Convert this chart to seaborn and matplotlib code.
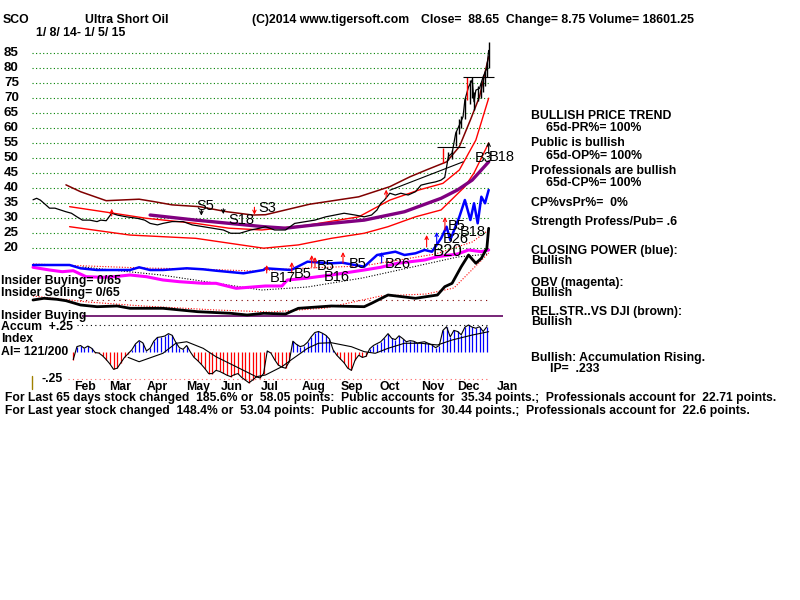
import numpy as np
import pandas as pd
import matplotlib
matplotlib.use("Agg")
import matplotlib.pyplot as plt
import matplotlib.transforms as mtransforms
import seaborn as sns

# ---------------- data ----------------
header_ticker = "SCO"
header_name = "Ultra Short Oil"
header_copy = "(C)2014 www.tigersoft.com"
header_quote = "Close=  88.65  Change= 8.75 Volume= 18601.25"
header_dates = "1/ 8/ 14- 1/ 5/ 15"

price_ticks = [85, 80, 75, 70, 65, 60, 55, 50, 45, 40, 35, 30, 25, 20]

month_names = ["Feb", "Mar", "Apr", "May", "Jun", "Jul", "Aug", "Sep", "Oct", "Nov", "Dec", "Jan"]
month_day = [28.4, 47.5, 67.8, 90.2, 108.7, 129.5, 153.6, 174.3, 195.1, 218.6, 237.7, 259.0]

close_day = [0, 2, 4, 7, 9, 12, 15, 18, 21, 24, 27, 31, 35, 37, 40, 43, 46, 51, 57, 61, 64, 68, 71, 76, 82,
             87, 93, 98, 104, 108, 113, 119, 124, 127, 132, 138, 143, 149, 154, 160, 165, 170, 176, 181, 185,
             188, 190, 192, 195, 198, 201, 205, 209, 212, 216, 220, 223, 225, 227, 229, 231, 233, 235, 236, 238,
             240, 241, 242, 244, 246, 248, 249]
close_val = [36.0, 36.5, 35.9, 34.3, 33.2, 33.2, 32.6, 32.0, 31.5, 30.3, 29.2, 29.2, 28.7, 29.2, 29.0, 31.5, 30.9,
             30.3, 29.8, 29.2, 28.1, 27.6, 28.1, 28.7, 28.7, 27.6, 27.0, 26.5, 25.9, 24.8, 24.8, 25.9, 26.5, 27.0,
             25.9, 25.9, 28.1, 28.7, 29.2, 30.3, 30.9, 31.5, 30.9, 30.3, 30.9, 32.6, 34.8, 35.9, 38.2, 37.6, 38.2,
             37.6, 38.7, 40.9, 41.5, 42.0, 42.6, 43.5, 50.5, 51.6, 58.3, 61.0, 63.8, 69.4, 73.8, 76.1, 68.8, 72.7,
             73.3, 77.2, 80.0, 86.0]

bar_day = [224, 227, 229, 231, 233, 234, 236, 237, 239, 240, 241, 243, 245, 246, 247, 248, 249]
bar_lo = [48.3, 49.3, 49.5, 54.0, 58.0, 60.0, 63.0, 69.4, 68.0, 70.0, 66.0, 69.0, 70.0, 72.0, 74.0, 77.0, 80.0]
bar_hi = [53.3, 52.0, 52.5, 59.0, 63.0, 64.0, 70.0, 77.0, 76.0, 77.0, 72.0, 74.0, 75.0, 77.0, 79.0, 82.0, 88.65]
red_bar_day = [224, 237]

upper_day = [18, 26, 40, 58, 66, 76, 91, 106, 120, 127, 151, 178, 195, 206, 215, 226, 233, 239, 244, 249]
upper_val = [41.0, 38.7, 35.7, 36.2, 35.4, 34.3, 33.7, 32.0, 30.9, 31.0, 34.5, 37.0, 40.4, 43.7, 46.0, 48.7,
             53.8, 62.7, 70.5, 83.9]
mid_day = [20, 44, 62, 89, 107, 125, 150, 178, 195, 211, 224, 233, 242, 249]
mid_val = [33.7, 31.5, 29.8, 28.1, 26.5, 25.9, 27.5, 30.3, 35.9, 39.3, 41.5, 46.0, 56.0, 70.0]
low_day = [20, 53, 89, 126, 145, 163, 181, 194, 209, 223, 236, 241, 249]
low_val = [27.0, 24.2, 23.1, 19.8, 20.9, 23.1, 24.8, 27.0, 30.3, 32.6, 40.4, 45.0, 55.0]
ma_day = [64, 89, 126, 138, 154, 181, 203, 223, 232, 240, 249]
ma_val = [30.9, 29.2, 27.0, 26.5, 27.6, 29.2, 32.0, 36.5, 39.3, 42.6, 48.7]
trend_day = [195, 235]
trend_val = [39.2, 48.7]
hline_lo_day = [221, 236]
hline_lo_val = 53.6
hline_hi_day = [235, 252]
hline_hi_val = 77.0

# indicator panel (arbitrary units)
cp_day = [0, 9, 20, 26, 35, 44, 53, 58, 64, 71, 84, 93, 100, 115, 126, 127, 141, 150, 163, 169, 181, 188, 198,
          203, 209, 214, 218, 223, 226, 228, 233, 236, 239, 241, 243, 245, 247, 249]
cp_val = [65, 65, 65, 61.7, 60, 60, 60, 62.7, 60, 60, 61.7, 60.7, 59.3, 56.7, 60, 61.7, 60, 68.3, 66.7, 67.3,
          63.3, 75, 78.3, 75, 76.7, 80, 78.3, 91.7, 103.3, 90, 113.3, 130, 110, 126.7, 106.7, 133.3, 126.7, 140]
obv_day = [0, 9, 16, 22, 29, 38, 44, 53, 62, 71, 80, 93, 100, 111, 122, 127, 136, 139, 149, 163, 181, 190, 199,
           214, 221, 232, 238, 245, 249]
obv_val = [62.7, 60, 58.3, 59.3, 53.3, 52.7, 53.3, 55, 53.3, 50, 48.3, 46.7, 46.7, 41.7, 43.3, 44, 44, 50, 51.7,
           55, 60, 62.7, 66.7, 70, 73.3, 76, 80, 78.3, 80]
obvma_day = [27, 70, 125, 150, 180, 200, 232, 249]
obvma_val = [63, 55, 40, 43, 52, 60, 73, 76]
cpma_day = [0, 30, 60, 90, 120, 150, 180, 200, 220, 240, 249]
cpma_val = [66, 64, 62, 61, 59, 62, 64, 70, 76, 88, 100]
rs_day = [0, 6, 13, 18, 26, 35, 46, 53, 71, 90, 108, 117, 126, 138, 145, 163, 181, 185, 194, 209, 221, 225, 229,
          234, 238, 242, 245, 248, 249]
rs_val = [30, 31.7, 30.7, 29.3, 25, 23.3, 24, 21.7, 21.7, 18.3, 16.7, 15, 16.7, 16, 21.7, 24, 23.3, 26.7, 35,
          31.7, 35, 43.3, 46.7, 63.3, 75, 66.7, 71.7, 81.7, 101.7]
rsma_day = [0, 30, 60, 100, 130, 160, 190, 215, 230, 249]
rsma_val = [34, 28, 24, 20, 18, 22, 34, 36, 42, 77]

# accumulation index (every 2nd trading day from day 22)
ai_val = [-0.07, 0.05, 0.06, 0.035, 0.055, 0.035, -0.005, -0.01, -0.035, -0.07, -0.11, -0.16, -0.15, -0.10,
          -0.05, -0.015, 0.02, 0.075, 0.105, 0.085, 0.01, 0.035, 0.10, 0.135, 0.14, 0.148, 0.17, 0.155, 0.09,
          0.04, 0.025, 0.06, 0.0, -0.05, -0.08, -0.115, -0.155, -0.2, -0.2, -0.17, -0.18, -0.197, -0.215, -0.228,
          -0.21, -0.2, -0.235, -0.26, -0.285, -0.26, -0.23, -0.24, -0.2, 0.01, -0.01, -0.07, -0.12, -0.14, -0.15,
          -0.09, 0.1, 0.07, 0.05, 0.06, 0.09, 0.14, 0.18, 0.19, 0.175, 0.155, 0.12, 0.02, -0.03, -0.065, -0.1,
          -0.15, -0.17, -0.075, -0.03, -0.05, -0.04, 0.03, 0.06, 0.078, 0.095, 0.13, 0.17, 0.127, 0.115, 0.15,
          0.125, 0.095, 0.105, 0.1, 0.083, 0.09, 0.095, 0.08, 0.065, 0.04, 0.06, 0.2, 0.234, 0.14, 0.2, 0.19,
          0.16, 0.23, 0.25, 0.23, 0.22, 0.234, 0.19, 0.234]
ai_day = list(range(22, 22 + 2 * len(ai_val), 2))
aima_day = [52, 58, 71, 78, 84, 93, 100, 111, 122, 127, 136, 141, 150, 156, 163, 174, 181, 187, 194, 203, 212,
            221, 229, 240, 249]
aima_val = [-0.05, -0.09, -0.012, 0.08, 0.095, 0.034, -0.044, -0.136, -0.229, -0.213, -0.136, -0.074, 0.034,
            0.081, 0.086, 0.049, 0.003, -0.012, 0.034, 0.081, 0.081, 0.065, 0.111, 0.157, 0.188]

price_sig_label = ["S5", "S18", "S3", "B3", "B18"]
price_sig_day = [94, 114, 128, 246.4, 256]
price_sig_val = [33.9, 29.2, 33.3, 50.0, 50.3]
ind_sig_label = ["B17", "B5", "B5", "B16", "B5", "B26", "B20", "B26", "B5", "B18"]
ind_sig_day = [136.6, 147.3, 159.8, 165.8, 177.3, 199.2, 226.5, 231.1, 231.4, 240.4]
ind_sig_val = [52.5, 56, 64, 53, 66, 66, 79, 91, 103.5, 97.5]

ind_red_arrow_day = [127.7, 141.4, 152.3, 154.1, 169.4, 215.1, 225.1]
ind_red_arrow_from = [57, 57, 63, 62, 67, 83, 100]
ind_red_arrow_to = [65, 68, 75, 73, 78, 95, 113]
ind_blue_arrow_day = [190.5, 220.6]
ind_blue_arrow_from = [67, 85]
ind_blue_arrow_to = [78, 98]
price_arrow_day = [43, 92, 104, 121, 193, 249]
price_arrow_from = [30.6, 32.8, 33.0, 33.5, 36.6, 51.5]
price_arrow_to = [33.0, 30.7, 31.2, 31.0, 39.4, 55.4]
price_arrow_is_red = [True, False, False, True, True, False]

right_text = [
    ("BULLISH PRICE TREND", 0, 116), ("65d-PR%= 100%", 1, 128.3),
    ("Public is bullish", 0, 143.3), ("65d-OP%= 100%", 1, 155.7),
    ("Professionals are bullish", 0, 171), ("65d-CP%= 100%", 1, 182.7),
    ("CP%vsPr%=  0%", 0, 202.7), ("Strength Profess/Pub= .6", 0, 221.7),
    ("CLOSING POWER (blue):", 0, 250.7), ("Bullish", 0, 261),
    ("OBV (magenta):", 0, 282.7), ("Bullish", 0, 293.3),
    ("REL.STR..VS DJI (brown):", 0, 311.7), ("Bullish", 0, 321.7),
    ("Bullish: Accumulation Rising.", 0, 358.3), ("IP=  .233", 2, 369.3),
]
left_text = [
    ("Insider Buying= 0/65", 281), ("Insider Selling= 0/65", 293.3), ("Insider Buying", 315.7),
    ("Accum  +.25", 327.3), ("Index", 339.3), ("AI= 121/200", 351.7),
]
bottom_text = [
    "For Last 65 days stock changed  185.6% or  58.05 points:  Public accounts for  35.34 points.;  Professionals account for  22.71 points.",
    "For Last year stock changed  148.4% or  53.04 points:  Public accounts for  30.44 points.;  Professionals account for  22.6 points.",
]

# ---------------- layout ----------------
sns.set_theme(style="white")
plt.rcParams['font.family'] = ['Liberation Sans', 'DejaVu Sans']
W, H = 800, 600
X0, PXD = 33.0, 1.83            # pixel of day 0 and pixels per trading day
fig = plt.figure(figsize=(8, 6), dpi=100, facecolor="white")


def fx(x):
    return x / W


def fy(y):
    return 1 - y / H


xlim = (-X0 / PXD, (W - X0) / PXD)


def make_axes(name, ylim):
    a = fig.add_axes([0, 0, 1, 1], label=name)
    a.set_xlim(*xlim)
    a.set_ylim(*ylim)
    a.set_axis_off()
    a.patch.set_alpha(0)
    return a


# price: 20 -> y 247.6 px, 2.988 px per unit
ax_p = make_axes("price", (20 - (H - 247.6) / 2.988, 20 + 247.6 / 2.988))
# indicators: value = 330 - y
ax_i = make_axes("ind", (330 - H, 330))
# accumulation index: value = (352 - y)/108
ax_a = make_axes("ai", ((352 - H) / 108, 352 / 108))

FONT = dict(fontweight="bold", color="black")
FS = 8.8

# header
fig.text(fx(3), fy(20), header_ticker, fontsize=FS, va="center", **FONT)
fig.text(fx(85), fy(20), header_name, fontsize=FS, va="center", **FONT)
fig.text(fx(252), fy(20), header_copy, fontsize=FS, va="center", **FONT)
fig.text(fx(421), fy(20), header_quote, fontsize=FS, va="center", **FONT)
fig.text(fx(36), fy(33), header_dates, fontsize=FS, va="center", **FONT)

# price grid and tick labels
ax_p.hlines(price_ticks, -0.5, 249.5, colors="#008000", linewidth=0.8, linestyles=(0, (1, 2.2)))
tr_p = mtransforms.blended_transform_factory(fig.transFigure, ax_p.transData)
for v in price_ticks:
    ax_p.text(fx(4), v, str(v), transform=tr_p, fontsize=9.6, va="center", ha="left", **FONT)

# price series
sns.lineplot(x=upper_day, y=upper_val, ax=ax_p, color="#800000", linewidth=1.1)
sns.lineplot(x=mid_day, y=mid_val, ax=ax_p, color="#ff0000", linewidth=1.0)
sns.lineplot(x=low_day, y=low_val, ax=ax_p, color="#ff0000", linewidth=1.0)
sns.lineplot(x=ma_day, y=ma_val, ax=ax_p, color="#800080", linewidth=2.4)
sns.lineplot(x=trend_day, y=trend_val, ax=ax_p, color="black", linewidth=0.8)
sns.lineplot(x=close_day, y=close_val, ax=ax_p, color="black", linewidth=0.9)
bar_cols = ["#ff0000" if d in red_bar_day else "black" for d in bar_day]
ax_p.vlines(bar_day, bar_lo, bar_hi, colors=bar_cols, linewidth=1.0)
ax_p.hlines([hline_lo_val], hline_lo_day[0], hline_lo_day[1], colors="black", linewidth=0.8)
ax_p.hlines([hline_hi_val], hline_hi_day[0], hline_hi_day[1], colors="black", linewidth=0.8)

for d, a, b, red in zip(price_arrow_day, price_arrow_from, price_arrow_to, price_arrow_is_red):
    ax_p.annotate("", xy=(d, b), xytext=(d, a),
                  arrowprops=dict(arrowstyle="->", color="#ff0000" if red else "black", lw=0.8,
                                  shrinkA=0, shrinkB=0, mutation_scale=6))
for lab, d, v in zip(price_sig_label, price_sig_day, price_sig_val):
    ax_p.text(d, v, lab, fontsize=10.5, ha="center", va="center", color="black")

# indicator panel
ax_i.hlines([30], 25.7, 249, colors="#800000", linewidth=0.8, linestyles=(0, (1, 4)))
ax_i.hlines([14.3], 26.8, 256.8, colors="#600060", linewidth=1.2)
sns.lineplot(x=cpma_day, y=cpma_val, ax=ax_i, color="#ff0000", linewidth=0.8, linestyle=(0, (1, 1.5)))
sns.lineplot(x=obvma_day, y=obvma_val, ax=ax_i, color="black", linewidth=0.8, linestyle=(0, (1, 1.5)))
sns.lineplot(x=rsma_day, y=rsma_val, ax=ax_i, color="#ff0000", linewidth=0.8, linestyle=(0, (1, 1.5)))
sns.lineplot(x=obv_day, y=obv_val, ax=ax_i, color="#ff00ff", linewidth=2.2)
sns.lineplot(x=cp_day, y=cp_val, ax=ax_i, color="#0000ff", linewidth=1.8)
sns.lineplot(x=rs_day, y=rs_val, ax=ax_i, color="black", linewidth=2.0)

for d, a, b in zip(ind_red_arrow_day, ind_red_arrow_from, ind_red_arrow_to):
    ax_i.annotate("", xy=(d, b), xytext=(d, a),
                  arrowprops=dict(arrowstyle="->", color="#ff0000", lw=0.8, shrinkA=0, shrinkB=0,
                                  mutation_scale=6))
for d, a, b in zip(ind_blue_arrow_day, ind_blue_arrow_from, ind_blue_arrow_to):
    ax_i.annotate("", xy=(d, b), xytext=(d, a),
                  arrowprops=dict(arrowstyle="->", color="#0000ff", lw=0.8, shrinkA=0, shrinkB=0,
                                  mutation_scale=6))
for lab, d, v in zip(ind_sig_label, ind_sig_day, ind_sig_val):
    ax_i.text(d, v, lab, fontsize=12 if lab == "B20" else 10.5, ha="center", va="center", color="black")

# accumulation index
ax_a.hlines([0.25], 24, 249, colors="black", linewidth=0.8, linestyles=(0, (1, 3)))
ax_a.hlines([-0.25], 19, 249, colors="#ff6060", linewidth=0.8, linestyles=(0, (1, 3)))
ai_cols = ["#0000ff" if v >= 0 else "#ff0000" for v in ai_val]
ax_a.vlines(ai_day, 0, ai_val, colors=ai_cols, linewidth=0.9)
sns.lineplot(x=ai_day, y=ai_val, ax=ax_a, color="black", linewidth=0.8)
sns.lineplot(x=aima_day, y=aima_val, ax=ax_a, color="black", linewidth=0.8)

# left labels
for s, y in left_text:
    fig.text(fx(1), fy(y), s, fontsize=FS, va="center", ha="left", **FONT)
fig.text(fx(42), fy(379), "-.25", fontsize=FS, va="center", ha="left", **FONT)
fig.add_artist(plt.Line2D([fx(32), fx(32)], [fy(376), fy(389)], color="#a08000", linewidth=1.0))

# month labels
tr_m = mtransforms.blended_transform_factory(ax_i.transData, fig.transFigure)
for m, d in zip(month_names, month_day):
    ax_i.text(d, fy(387), m, transform=tr_m, fontsize=FS, ha="center", va="center", **FONT)

# right panel
for s, ind, y in right_text:
    x = 531 + (15 if ind == 1 else 0) + (19 if ind == 2 else 0)
    fig.text(fx(x), fy(y), s, fontsize=FS, va="center", ha="left", **FONT)

# bottom lines
for s, y in zip(bottom_text, [398.3, 410.7]):
    fig.text(fx(5), fy(y), s, fontsize=8.75, va="center", ha="left", **FONT)

fig.savefig("out.png", dpi=100, facecolor="white")
